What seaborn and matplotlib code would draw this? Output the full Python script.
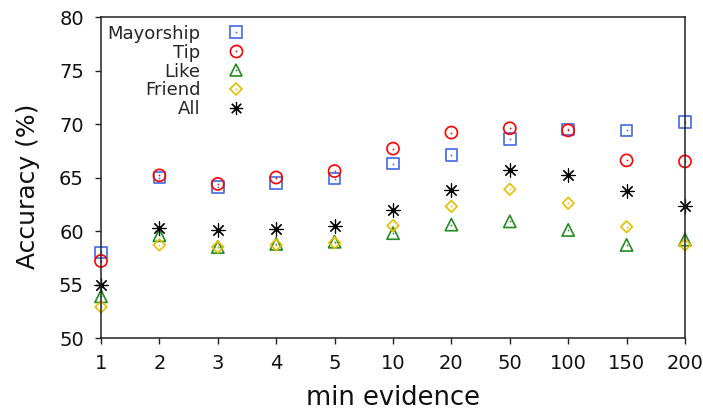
import matplotlib
matplotlib.use("Agg")
import matplotlib.pyplot as plt
from matplotlib.lines import Line2D
import seaborn as sns
import pandas as pd

# Minimum number of evidence items required per prediction
min_evidence = ["1", "2", "3", "4", "5", "10", "20", "50", "100", "150", "200"]

# Accuracy (%) per feature set
mayorship = [58.0, 65.0, 64.1, 64.5, 64.9, 66.3, 67.1, 68.6, 69.5, 69.4, 70.2]
tip = [57.2, 65.2, 64.4, 65.0, 65.6, 67.7, 69.2, 69.6, 69.4, 66.6, 66.5]
like = [53.9, 59.6, 58.5, 58.8, 59.0, 59.8, 60.6, 60.9, 60.1, 58.7, 59.2]
friend = [52.9, 58.7, 58.5, 58.7, 58.9, 60.5, 62.3, 63.9, 62.6, 60.4, 58.7]
all_features = [55.0, 60.3, 60.1, 60.2, 60.5, 62.0, 63.8, 65.7, 65.2, 63.7, 62.3]

series_names = ["Mayorship", "Tip", "Like", "Friend", "All"]
series_values = [mayorship, tip, like, friend, all_features]

# marker, colour, marker area (pt^2), line width, centre dot
styles = {
    "Mayorship": ("s", "#4169e1", 70, 1.2, True),
    "Tip": ("o", "#ff0000", 76, 1.2, True),
    "Like": ("^", "#228b22", 78, 1.2, True),
    "Friend": ("D", "#e8be00", 35, 1.2, True),
    "All": ((8, 2, 0), "#000000", 90, 0.85, False),
}

rows = []
for name, vals in zip(series_names, series_values):
    for x, v in zip(min_evidence, vals):
        rows.append({"min_evidence": x, "accuracy": v, "feature": name})
df = pd.DataFrame(rows)
df["min_evidence"] = pd.Categorical(df["min_evidence"], categories=min_evidence, ordered=True)

sns.set_style("white")
plt.rcParams["font.family"] = ["DejaVu Sans"]

fig = plt.figure(figsize=(7.03, 4.16), dpi=100)
ax = fig.add_axes([0.1437, 0.1875, 0.8307, 0.7716])

handles = []
for name in series_names:
    marker, color, size, mw, dot = styles[name]
    sub = df[df["feature"] == name]
    if dot:
        # hollow outline marker
        sns.scatterplot(data=sub, x="min_evidence", y="accuracy", ax=ax,
                        marker=marker, s=size, facecolor="none", edgecolor=color,
                        linewidth=mw, clip_on=False, legend=False, zorder=2)
    else:
        # line-only marker (asterisk) takes its colour from the face
        sns.scatterplot(data=sub, x="min_evidence", y="accuracy", ax=ax,
                        marker=marker, s=size, color=color,
                        linewidth=mw, clip_on=False, legend=False, zorder=2)
    h = Line2D([], [], ls="none", marker=marker, ms=size ** 0.5,
               mfc="none", mec=color, mew=mw)
    if dot:
        sns.scatterplot(data=sub, x="min_evidence", y="accuracy", ax=ax,
                        marker="o", s=1.6, color=color, linewidth=0,
                        clip_on=False, legend=False, zorder=2)
        d = Line2D([], [], ls="none", marker="o", ms=1.3, mfc=color, mec=color, mew=0)
        handles.append((h, d))
    else:
        handles.append(h)

ax.set_xlim(0, len(min_evidence) - 1)
ax.set_ylim(50, 80)
ax.set_yticks(range(50, 81, 5))

for side in ["left", "right", "top", "bottom"]:
    ax.spines[side].set_visible(True)
    ax.spines[side].set_color("#222222")
    ax.spines[side].set_linewidth(1.1)

ax.tick_params(axis="both", which="both", direction="out", length=4.3, width=1.0,
               color="#222222", labelsize=14, labelcolor="#111111",
               bottom=True, left=True, top=False, right=False)
ax.tick_params(axis="y", pad=8)
ax.tick_params(axis="x", pad=7)

ax.set_xlabel("min evidence", fontsize=18.5, color="#111111")
ax.set_ylabel("Accuracy (%)", fontsize=18, color="#111111")
ax.xaxis.set_label_coords(0.5, -0.145)
ax.yaxis.set_label_coords(-0.104, 0.473)

ax.legend(handles, series_names, markerfirst=False, frameon=False,
          loc="upper left", bbox_to_anchor=(-0.005, 1.004), fontsize=13,
          handlelength=1.0, handletextpad=1.5, labelspacing=0.05,
          borderpad=0.3, borderaxespad=0.2)

fig.savefig("out.png", dpi=100)
